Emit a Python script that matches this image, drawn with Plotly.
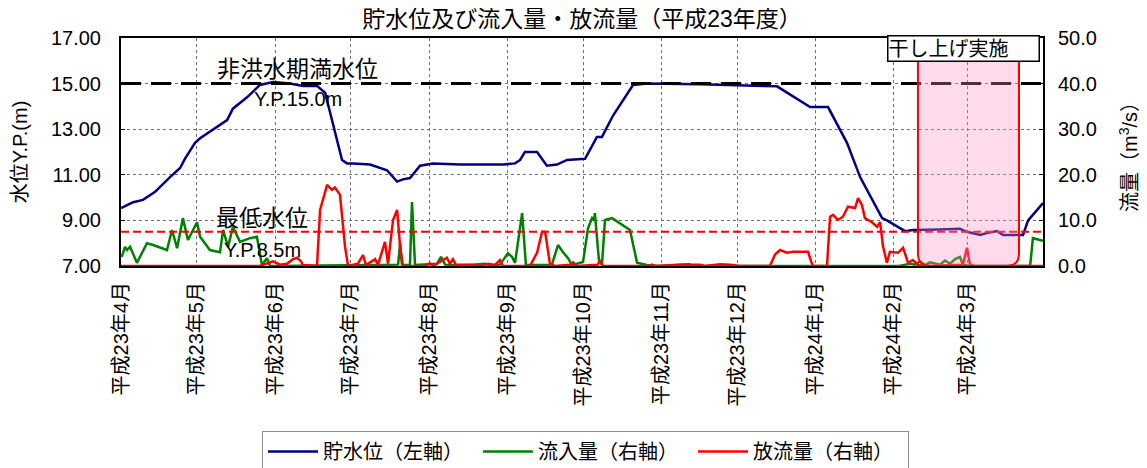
import plotly.graph_objects as go

# ---- data (day = days since 2011-04-01) ----
month_days = [0, 30, 61, 91, 122, 153, 183, 214, 244, 275, 306, 335]
month_labels = ["平成23年4月", "平成23年5月", "平成23年6月", "平成23年7月", "平成23年8月",
                "平成23年9月", "平成23年10月", "平成23年11月", "平成23年12月",
                "平成24年1月", "平成24年2月", "平成24年3月"]

level_day = [0, 4.8, 8.7, 13.5, 19.4, 23.4, 25.3, 29.3, 31.3, 35.2, 39.2, 42, 44.3, 49.9, 55,
             60.2, 66.9, 72, 77.6, 80.8, 87.5, 89.5, 91.9, 98.6, 105.3, 109.3, 111.6, 114.4,
             118.4, 123.5, 134.2, 151.2, 156, 158, 159.9, 164.7, 168.6, 172.6, 176.6, 183.7,
             185.7, 188.4, 190.4, 194.8, 202.7, 208.2, 229.2, 245, 259.7, 272.8, 279.9, 287.4,
             292.6, 301.3, 303.2, 310.4, 313.5, 324.2, 332.1, 334.9, 340.1, 342.8, 346.8,
             349.2, 357.1, 359.1, 365]
level_val = [9.54, 9.8, 9.9, 10.25, 10.9, 11.3, 11.7, 12.4, 12.6, 12.9, 13.2, 13.4, 13.9, 14.4,
             14.94, 15.07, 15.0, 14.9, 14.9, 14.6, 11.65, 11.5, 11.5, 11.45, 11.2, 10.7, 10.8,
             10.86, 11.4, 11.5, 11.45, 11.45, 11.5, 11.65, 12.0, 12.0, 11.4, 11.45, 11.65, 11.7,
             12.1, 12.66, 12.66, 13.6, 14.94, 15.0, 14.97, 14.94, 14.88, 13.97, 13.97, 12.4,
             10.9, 9.1, 9.0, 8.53, 8.58, 8.6, 8.63, 8.5, 8.36, 8.45, 8.53, 8.36, 8.36, 9.0, 9.76]

inflow_day = [0.3, 1.6, 2.4, 3.6, 6.3, 10.3, 12.7, 18.2, 20.2, 22.2, 24.5, 26.5, 30.1, 31.3,
              35.2, 39.2, 40.4, 42.4, 44.3, 47.1, 51, 53.8, 55.8, 57.8, 59, 109.7, 110.5,
              111.2, 114.4, 115.2, 116.4, 125.1, 126.7, 128.3, 138, 144, 146, 150, 153.2,
              154.8, 156, 158.8, 160.3, 167.9, 170.6, 173, 175, 177, 178.5, 182.9, 184.9,
              186.5, 187.3, 187.6, 189.2, 190.4, 191.6, 194.4, 201.5, 204.3, 208.2, 213, 225,
              226.4, 308, 312.4, 314.3, 316.3, 318.3, 320.3, 324.2, 326.2, 328.2, 330.2,
              332.1, 333.3, 336.1, 359.9, 361, 363.8, 365]
inflow_val = [2.0, 4.2, 3.5, 4.2, 0.7, 5.0, 4.6, 3.5, 7.9, 3.9, 10.5, 5.7, 9.6, 6.4, 3.5, 3.0,
              7.9, 4.2, 8.6, 5.3, 6.1, 6.4, 0.2, 1.7, 0.0, 0.3, 5.0, 0.3, 0.2, 14.0, 0.2, 0.5,
              2.0, 0.3, 0.2, 0.5, 0.2, 0.3, 2.8, 2.0, 0.7, 11.6, 0.2, 0.2, 0.3, 4.6, 3.0, 1.7,
              0.2, 0.9, 8.3, 10.5, 10.0, 11.6, 1.3, 0.2, 10.1, 10.5, 7.9, 0.7, 0.2, 0.0, 0.4,
              0.0, 0.0, 0.5, 0.3, 1.0, 0.2, 0.8, 0.3, 1.2, 0.5, 1.5, 2.0, 0.3, 0.0, 0.0, 6.1,
              5.7, 5.5]

outflow_day = [0, 20, 55, 60.2, 62.9, 65.7, 68.1, 69.7, 71.3, 72, 77.6, 78.8, 81.6, 83.5, 84.7,
               86.7, 88.7, 89.9, 93.8, 95.8, 97, 100.6, 101.7, 104.5, 105.7, 107.7, 109.3,
               110.5, 111.6, 120.3, 122.3, 123.5, 129, 130.2, 131.4, 132.6, 138.2, 142, 145.3,
               148, 150, 151.2, 161.9, 164.7, 166.7, 167.9, 169.8, 171.8, 177.8, 179, 180.1,
               188.8, 189.6, 190.8, 209.4, 210.2, 211.4, 221.3, 229.2, 231.2, 237.1, 241.1,
               245, 256.9, 258.9, 260.9, 263.6, 266, 272, 273.2, 274, 279.5, 280.7, 281.9,
               283.8, 285.8, 287.8, 290.6, 291.8, 293.3, 294.5, 297.3, 299.3, 300.5, 301.7,
               303.2, 304.4, 307.6, 309.6, 311.6, 313.5, 315.5, 318.3, 333.3, 334.9, 336.1,
               338, 365]
outflow_val = [0.0, 0.0, 0.0, 1.0, 0.3, 0.5, 1.5, 1.8, 1.0, 0.2, 0.0, 12.3, 17.8, 16.7, 17.2,
               15.6, 4.2, 0.0, 0.5, 2.4, 0.2, 1.5, 0.2, 5.3, 0.5, 10.1, 12.3, 4.2, 0.0, 0.0,
               0.6, 0.0, 1.8, 0.5, 1.5, 0.2, 0.3, 0.0, 0.5, 0.2, 1.3, 0.0, 0.0, 2.9, 7.5, 7.5,
               0.5, 0.0, 0.3, 0.8, 0.0, 0.3, 1.3, 0.0, 0.0, 0.3, 0.0, 0.3, 0.3, 0.0, 0.4, 0.3,
               0.0, 0.0, 2.5, 3.5, 2.9, 3.1, 3.1, 1.0, 0.0, 0.0, 10.8, 11.2, 10.1, 10.8, 13.0,
               12.7, 14.9, 13.4, 10.5, 9.6, 8.6, 9.6, 4.2, 0.7, 3.1, 2.9, 4.0, 0.7, 1.3, 0.2,
               0.0, 0.3, 4.0, 0.3, 0.0, 0.0]

full_level = 15.0       # 非洪水期満水位
min_level = 8.5         # 最低水位
dry_start, dry_end = 315.5, 355.5   # 干し上げ実施 period (days)

FONT = "Liberation Sans, Arial, Noto Sans CJK JP"

fig = go.Figure()
fig.add_trace(go.Scatter(x=inflow_day, y=inflow_val, name="流入量（右軸）", yaxis="y2",
                         mode="lines", line=dict(color="#008000", width=2.5), legendrank=2))
fig.add_trace(go.Scatter(x=outflow_day, y=outflow_val, name="放流量（右軸）", yaxis="y2",
                         mode="lines", line=dict(color="#FF0000", width=2.5), legendrank=3))
fig.add_trace(go.Scatter(x=level_day, y=level_val, name="貯水位（左軸）", yaxis="y",
                         mode="lines", line=dict(color="#000080", width=2.5), legendrank=1))

# reference lines
fig.add_shape(type="line", xref="x", yref="y", x0=0, x1=365, y0=full_level, y1=full_level,
              line=dict(color="black", width=3, dash="20px,10px"), layer="above")
fig.add_shape(type="line", xref="x", yref="y", x0=0, x1=365, y0=min_level, y1=min_level,
              line=dict(color="#FF0000", width=2, dash="8px,4px"), layer="above")

# dry-up period box with rounded bottom corners
rx, ry, ytop, ybot = 5.0, 0.55, 16.5, 7.0
path = (f"M {dry_start},{ytop} L {dry_start},{ybot+ry} Q {dry_start},{ybot} {dry_start+rx},{ybot} "
        f"L {dry_end-rx},{ybot} Q {dry_end},{ybot} {dry_end},{ybot+ry} L {dry_end},{ytop} Z")
fig.add_shape(type="path", xref="x", yref="y", path=path,
              fillcolor="rgba(255,140,195,0.32)", line=dict(color="#FF0000", width=2),
              layer="above")

ann_font = dict(family=FONT, size=20, color="black")
big_font = dict(family=FONT, size=23, color="black")
fig.add_annotation(x=70, y=15.62, xref="x", yref="y", text="非洪水期満水位", showarrow=False,
                   font=big_font)
fig.add_annotation(x=70, y=14.32, xref="x", yref="y", text="Y.P.15.0m", showarrow=False,
                   font=ann_font)
fig.add_annotation(x=56, y=9.12, xref="x", yref="y", text="最低水位", showarrow=False,
                   font=big_font)
fig.add_annotation(x=56, y=7.7, xref="x", yref="y", text="Y.P.8.5m", showarrow=False,
                   font=ann_font)
fig.add_annotation(x=333.5, y=1.011, xref="x", yref="paper", text="干し上げ実施",
                   showarrow=False, font=ann_font, align="left", width=150, height=24,
                   bgcolor="white", bordercolor="black", borderwidth=1.5, borderpad=0)

grid = dict(showgrid=True, gridcolor="#707070", gridwidth=1, griddash="dot")
fig.update_layout(
    width=1139, height=460,
    margin=dict(l=113, r=104, t=30, b=202, autoexpand=False),
    paper_bgcolor="white", plot_bgcolor="white",
    font=dict(family=FONT, size=20, color="black"),
    title=dict(text="貯水位及び流入量・放流量（平成23年度）", x=0.5, xref="paper",
               y=1 - 11 / 460, yref="container", yanchor="middle",
               font=dict(family=FONT, size=23, color="black")),
    xaxis=dict(range=[0, 365], tickmode="array", tickvals=month_days, ticktext=month_labels,
               tickangle=-90, tickfont=dict(size=20), ticks="", ticklabelstandoff=6,
               showline=True, linecolor="black", linewidth=2, mirror=True, zeroline=False,
               **grid),
    yaxis=dict(range=[7, 17], tick0=7, dtick=2, tickformat=".2f", tickfont=dict(size=20),
               ticks="inside", ticklen=4, tickcolor="black", ticklabelstandoff=14,
               showline=True, linecolor="black", linewidth=2, mirror=True, zeroline=False,
               title=dict(text="水位Y.P.(m)", standoff=18, font=dict(size=20)), **grid),
    yaxis2=dict(range=[0, 50], tick0=0, dtick=10, tickformat=".1f", overlaying="y",
                side="right", tickfont=dict(size=20), ticks="inside", ticklen=4,
                tickcolor="black", ticklabelstandoff=14, showgrid=False, zeroline=False,
                showline=False,
                title=dict(text="流量（m<sup>3</sup>/s）", standoff=27, font=dict(size=20))),
    legend=dict(orientation="h", x=(262 - 121) / 922, y=-0.724, xanchor="left", yanchor="top",
                bordercolor="#909090", borderwidth=1, bgcolor="white",
                font=dict(family=FONT, size=20), traceorder="normal",
                itemwidth=50, entrywidth=150, entrywidthmode="pixels"),
    showlegend=True,
)

fig.write_html("out.html")
